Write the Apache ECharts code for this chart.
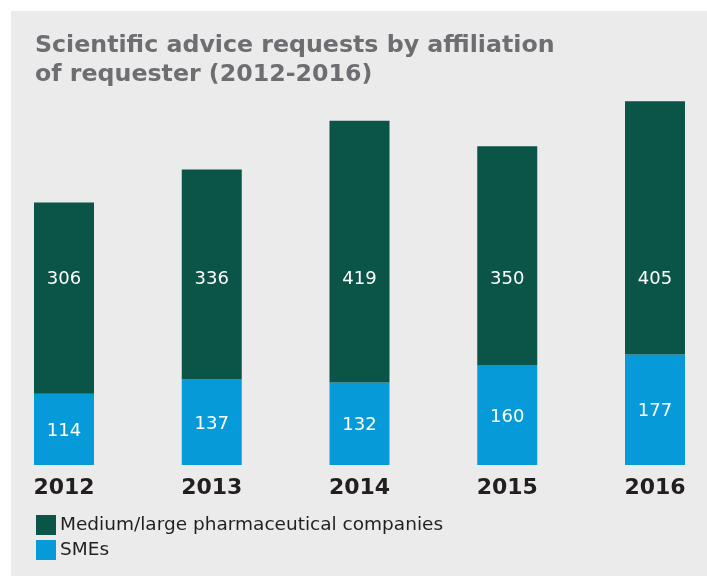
<!DOCTYPE html>
<html>
<head>
<meta charset="utf-8">
<script src="https://cdn.jsdelivr.net/npm/echarts@6/dist/echarts.min.js"></script>
<style>
    html, body { margin: 0; padding: 0; background: #fff; }
    #chart { width: 707px; height: 576px; }
</style>
</head>
<body>
<div id="chart"></div>
<script>
    // values
    var years = ['2012', '2013', '2014', '2015', '2016'];
    var smes = [114, 137, 132, 160, 177];
    var pharma = [306, 336, 419, 350, 405];

    var chart = echarts.init(document.getElementById('chart'));
    chart.setOption({
        backgroundColor: '#ffffff',
        animation: false,
        graphic: [
            {
                type: 'rect',
                z: -10,
                shape: { x: 11, y: 11, width: 696, height: 565 },
                style: { fill: '#ebebeb' }
            }
        ],
        title: {
            text: 'Scientific advice requests by affiliation\nof requester (2012-2016)',
            left: 30,
            top: 26,
            textStyle: {
                fontFamily: 'DejaVu Sans',
                fontWeight: 'bold',
                fontSize: 23.7,
                lineHeight: 29,
                color: '#6d6e71'
            }
        },
        legend: {
            orient: 'vertical',
            left: 36,
            top: 515,
            padding: 0,
            itemWidth: 20,
            itemHeight: 20,
            itemGap: 5,
            icon: 'rect',
            textStyle: {
                fontFamily: 'DejaVu Sans',
                fontSize: 18.5,
                color: '#231f20',
                padding: [0, 0, 0, -1]
            },
            data: ['Medium/large pharmaceutical companies', 'SMEs']
        },
        grid: {
            left: 64,
            right: 52,
            top: 100,
            bottom: 111
        },
        xAxis: {
            type: 'category',
            data: years,
            boundaryGap: false,
            axisLine: { show: false },
            axisTick: { show: false },
            axisLabel: {
                margin: 12,
                fontFamily: 'DejaVu Sans',
                fontWeight: 'bold',
                fontSize: 22,
                color: '#231f20'
            }
        },
        yAxis: {
            type: 'value',
            min: 0,
            max: 584,
            show: false,
            splitLine: { show: false }
        },
        series: [
            {
                name: 'SMEs',
                type: 'bar',
                stack: 'total',
                barWidth: 60,
                clip: false,
                itemStyle: { color: '#069bd8' },
                label: {
                    show: true,
                    position: 'inside',
                    offset: [0, 2],
                    color: '#ffffff',
                    fontFamily: 'DejaVu Sans',
                    fontSize: 18
                },
                data: smes
            },
            {
                name: 'Medium/large pharmaceutical companies',
                type: 'bar',
                stack: 'total',
                barWidth: 60,
                clip: false,
                itemStyle: { color: '#0a5547' },
                label: {
                    show: true,
                    position: 'inside',
                    color: '#ffffff',
                    fontFamily: 'DejaVu Sans',
                    fontSize: 18
                },
                labelLayout: { y: 279, align: 'center', verticalAlign: 'middle' },
                data: pharma
            }
        ]
    });
</script>
</body>
</html>
